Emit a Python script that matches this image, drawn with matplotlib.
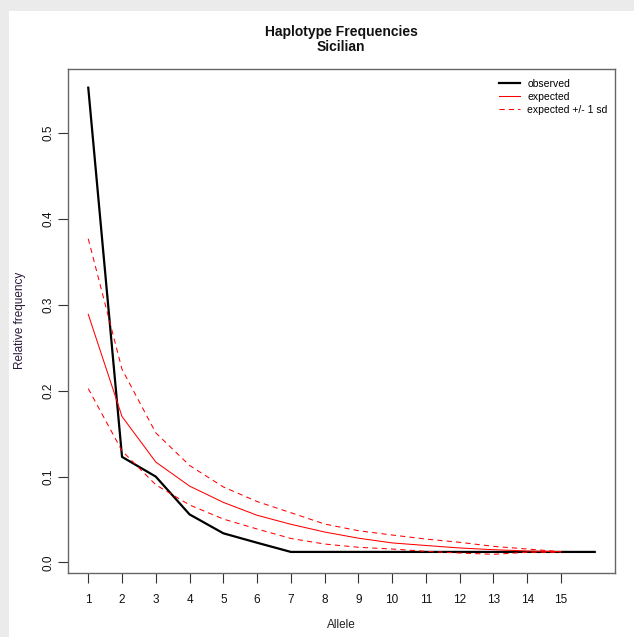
import numpy as np
import matplotlib
matplotlib.use("Agg")
import matplotlib.pyplot as plt
from matplotlib.patches import Rectangle

plt.rcParams['font.family'] = ['Liberation Sans', 'DejaVu Sans']

# Haplotype frequency spectrum for the Sicilian sample
obs_allele = list(range(1, 17))
observed = [0.553, 0.123, 0.100, 0.056, 0.034, 0.023,
            0.0123, 0.0123, 0.0123, 0.0123, 0.0123,
            0.0123, 0.0123, 0.0123, 0.0123, 0.0123]

exp_allele = list(range(1, 16))
expected = [0.289, 0.170, 0.117, 0.089, 0.070, 0.055, 0.0445, 0.0355,
            0.0283, 0.0228, 0.0198, 0.0169, 0.0149, 0.0134, 0.0126]
expected_upper = [0.377, 0.225, 0.151, 0.113, 0.088, 0.071, 0.058, 0.0448,
                  0.037, 0.032, 0.0273, 0.0235, 0.0188, 0.0157, 0.0126]
expected_lower = [0.2025, 0.130, 0.0905, 0.067, 0.0506, 0.039, 0.028, 0.0215,
                  0.0177, 0.0157, 0.013, 0.011, 0.0095, 0.0119, 0.0119]

x_ticks = list(range(1, 16))
y_ticks = [0.0, 0.1, 0.2, 0.3, 0.4, 0.5]
y_tick_labels = ["0.0", "0.1", "0.2", "0.3", "0.4", "0.5"]

W, H = 634, 637
fig = plt.figure(figsize=(W / 100, H / 100), dpi=100, facecolor='#ebebeb')
# white page area behind everything
fig.patches.append(Rectangle((9 / W, 0), 1, 1 - 11 / H, transform=fig.transFigure,
                             facecolor='white', edgecolor='none', zorder=-10))

ax = fig.add_axes([68 / W, 1 - 573 / H, (615 - 68) / W, (573 - 69) / H])
ax.set_zorder(5)
ax.set_facecolor('white')

ax.plot(obs_allele, observed, color='black', lw=1.6, label='observed',
        solid_joinstyle='round')
ax.plot(exp_allele, expected, color='red', lw=0.75, label='expected')
ax.plot(exp_allele, expected_upper, color='red', lw=0.75, ls=(0, (5, 4)),
        label='expected +/- 1 sd')
ax.plot(exp_allele, expected_lower, color='red', lw=0.75, ls=(0, (5, 4)))

# axis ranges extended by 4% as in base graphics
xmin, xmax = min(obs_allele), max(obs_allele)
allv = observed + expected + expected_upper + expected_lower
ymin, ymax = min(allv), max(allv)
ax.set_xlim(xmin - 0.04 * (xmax - xmin), xmax + 0.04 * (xmax - xmin))
ax.set_ylim(ymin - 0.04 * (ymax - ymin), ymax + 0.04 * (ymax - ymin))

ax.set_xticks(x_ticks)
ax.set_xticklabels([str(v) for v in x_ticks])
ax.set_yticks(y_ticks)
ax.set_yticklabels(y_tick_labels, rotation=90, va='center')
ax.tick_params(axis='both', direction='out', length=7, width=0.8, color='#333333',
               labelsize=8.5, labelcolor='#111111')
ax.tick_params(axis='x', pad=8)
ax.tick_params(axis='y', pad=2.5)
for s in ax.spines.values():
    s.set_color('#666666')
    s.set_linewidth(1.0)

fig.text(341 / W, 1 - 32 / H, "Haplotype Frequencies", ha='center', va='center',
         fontsize=10, fontweight='bold', color='#111111')
fig.text(341 / W, 1 - 47 / H, "Sicilian", ha='center', va='center',
         fontsize=10, fontweight='bold', color='#111111')
fig.text(341 / W, 1 - 625 / H, "Allele", ha='center', va='center',
         fontsize=8.5, color='#222222')
fig.text(20 / W, 1 - 320 / H, "Relative frequency", ha='center', va='center',
         rotation=90, fontsize=8.5, color='#2a1a3a')

ax.legend(loc='upper right', bbox_to_anchor=(1.0, 0.995), frameon=False,
          fontsize=7.5, handlelength=1.95, handletextpad=0.75, labelspacing=0.3,
          borderaxespad=0.3)

fig.savefig("out.png", dpi=100, facecolor=fig.get_facecolor())
